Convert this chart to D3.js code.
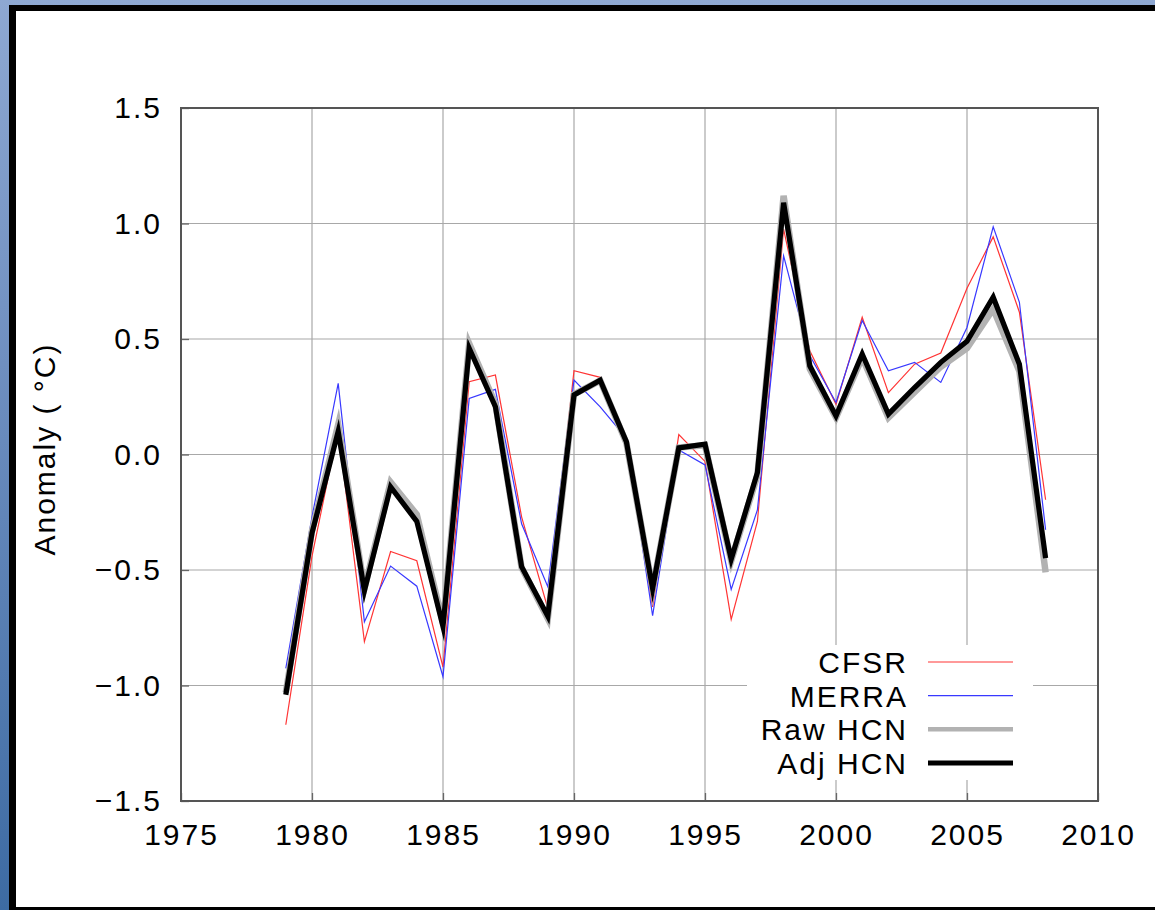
<!DOCTYPE html>
<html>
<head>
<meta charset="utf-8">
<script src="https://cdn.jsdelivr.net/npm/d3@7"></script>
<style>
    body { margin: 0; padding: 0; background: #ffffff; }
    svg text { font-family: "Liberation Sans", Arial, Helvetica, sans-serif; fill: #000; letter-spacing: 2px; }
</style>
</head>
<body>
<div id="chart"></div>
<script>
// values, one per year 1979-2008
var years = d3.range(1979, 2009);

var cfsr = [-1.17, -0.44, 0.11, -0.81, -0.42, -0.46, -0.92, 0.315, 0.344, -0.27,
    -0.666, 0.363, 0.334, 0.04, -0.66, 0.086, -0.03, -0.714, -0.29, 0.976,
    0.449, 0.217, 0.594, 0.268, 0.391, 0.439, 0.72, 0.942, 0.616, -0.196];

var merra = [-0.926, -0.27, 0.308, -0.724, -0.483, -0.57, -0.962, 0.243, 0.282, -0.30,
    -0.572, 0.322, 0.206, 0.07, -0.698, 0.02, -0.045, -0.584, -0.24, 0.86,
    0.428, 0.225, 0.58, 0.362, 0.399, 0.312, 0.55, 0.986, 0.659, -0.326];

var rawHcn = [-1.03, -0.33, 0.13, -0.58, -0.12, -0.26, -0.73, 0.48, 0.22, -0.49,
    -0.71, 0.26, 0.32, 0.05, -0.58, 0.03, 0.04, -0.46, -0.09, 1.12,
    0.37, 0.16, 0.42, 0.16, 0.27, 0.38, 0.46, 0.63, 0.36, -0.51];

var adjHcn = [-1.04, -0.34, 0.10, -0.59, -0.14, -0.29, -0.745, 0.46, 0.207, -0.486,
    -0.70, 0.258, 0.322, 0.055, -0.58, 0.029, 0.045, -0.453, -0.078, 1.09,
    0.384, 0.167, 0.435, 0.175, 0.29, 0.399, 0.49, 0.681, 0.391, -0.449];

var xTicks = [1975, 1980, 1985, 1990, 1995, 2000, 2005, 2010];
var yTicks = [-1.5, -1.0, -0.5, 0.0, 0.5, 1.0, 1.5];

var series = [
    {"name": "CFSR", "values": cfsr, "color": "#ff3434", "width": 1.2},
    {"name": "MERRA", "values": merra, "color": "#3838ff", "width": 1.2},
    {"name": "Raw HCN", "values": rawHcn, "color": "#b2b2b2", "width": 6.5},
    {"name": "Adj HCN", "values": adjHcn, "color": "#000000", "width": 5.2}
];

var width = 1155;
var height = 910;
var plotLeft = 181, plotRight = 1098, plotTop = 108, plotBottom = 801;
var fontSize = "30px";

var svg = d3.select("#chart").append("svg")
    .attr("width", width)
    .attr("height", height);

// blue backdrop and the black frame round the white panel
var grad = svg.append("defs").append("linearGradient")
    .attr("id", "bg-gradient")
    .attr("x1", "0").attr("y1", "0").attr("x2", "0").attr("y2", "1");
grad.append("stop").attr("offset", "0%").attr("stop-color", "#8ea8d2");
grad.append("stop").attr("offset", "40%").attr("stop-color", "#6f8fc0");
grad.append("stop").attr("offset", "100%").attr("stop-color", "#3d6ba3");

svg.append("rect").attr("width", width).attr("height", height).attr("fill", "url(#bg-gradient)");
svg.append("rect").attr("x", 9).attr("y", 5).attr("width", width - 9).attr("height", height - 5).attr("fill", "#000");
svg.append("rect").attr("x", 16).attr("y", 11).attr("width", width - 16).attr("height", 896).attr("fill", "#fff");

var xScale = d3.scaleLinear().domain([1975, 2010]).range([plotLeft, plotRight]);
var yScale = d3.scaleLinear().domain([-1.5, 1.5]).range([plotBottom, plotTop]);

// grid
var grid = svg.append("g").attr("class", "grid");
grid.selectAll(".vgrid")
    .data(xTicks)
    .enter().append("line")
    .attr("x1", function(d) { return xScale(d); })
    .attr("x2", function(d) { return xScale(d); })
    .attr("y1", plotTop).attr("y2", plotBottom)
    .attr("stroke", "#a8a8a8").attr("stroke-width", 1.2);
grid.selectAll(".hgrid")
    .data(yTicks)
    .enter().append("line")
    .attr("x1", plotLeft).attr("x2", plotRight)
    .attr("y1", function(d) { return yScale(d); })
    .attr("y2", function(d) { return yScale(d); })
    .attr("stroke", "#a8a8a8").attr("stroke-width", 1.2);

// the key sits on a white box that hides the grid
svg.append("rect")
    .attr("x", 747).attr("y", 645)
    .attr("width", 286).attr("height", 135)
    .attr("fill", "#fff");

// axes, ticks inward
svg.append("g")
    .attr("transform", "translate(0," + plotBottom + ")")
    .call(d3.axisBottom(xScale).tickValues(xTicks).tickSize(-8).tickPadding(23).tickFormat(d3.format("d")))
    .call(function(g) {
        g.select(".domain").remove();
        g.selectAll("line").attr("stroke", "#666").attr("stroke-width", 1.3);
        g.selectAll("text").attr("font-size", fontSize).attr("font-family", "Liberation Sans, Arial, sans-serif").attr("fill", "#000");
    });

svg.append("g")
    .attr("transform", "translate(" + plotLeft + ",0)")
    .call(d3.axisLeft(yScale).tickValues(yTicks).tickSize(-8).tickPadding(19).tickFormat(d3.format(".1f")))
    .call(function(g) {
        g.select(".domain").remove();
        g.selectAll("line").attr("stroke", "#666").attr("stroke-width", 1.3);
        g.selectAll("text").attr("font-size", fontSize).attr("font-family", "Liberation Sans, Arial, sans-serif").attr("fill", "#000");
    });

svg.append("rect")
    .attr("x", plotLeft).attr("y", plotTop)
    .attr("width", plotRight - plotLeft).attr("height", plotBottom - plotTop)
    .attr("fill", "none")
    .attr("stroke", "#555")
    .attr("stroke-width", 2);

svg.append("text")
    .attr("transform", "translate(55,449) rotate(-90)")
    .attr("text-anchor", "middle")
    .attr("font-size", fontSize)
    .text("Anomaly ( °C)");

// data lines
var line = d3.line()
    .x(function(d, i) { return xScale(years[i]); })
    .y(function(d) { return yScale(d); });

svg.selectAll(".series")
    .data(series)
    .enter().append("path")
    .attr("class", "series")
    .attr("d", function(s) { return line(s.values); })
    .attr("fill", "none")
    .attr("stroke", function(s) { return s.color; })
    .attr("stroke-width", function(s) { return s.width; })
    .attr("stroke-linejoin", "miter")
    .attr("stroke-miterlimit", 6);

// legend
var legendY = d3.scaleLinear().domain([0, 3]).range([662, 763]);
var key = svg.append("g").attr("class", "legend");
key.selectAll("text")
    .data(series)
    .enter().append("text")
    .attr("x", 908)
    .attr("y", function(d, i) { return legendY(i) + 11; })
    .attr("text-anchor", "end")
    .attr("font-size", fontSize)
    .text(function(d) { return d.name; });
key.selectAll("line")
    .data(series)
    .enter().append("line")
    .attr("x1", 928).attr("x2", 1013)
    .attr("y1", function(d, i) { return legendY(i); })
    .attr("y2", function(d, i) { return legendY(i); })
    .attr("stroke", function(d) { return d.color; })
    .attr("stroke-width", function(d) { return d.name == "Raw HCN" ? 4.5 : d.width; });
</script>
</body>
</html>
